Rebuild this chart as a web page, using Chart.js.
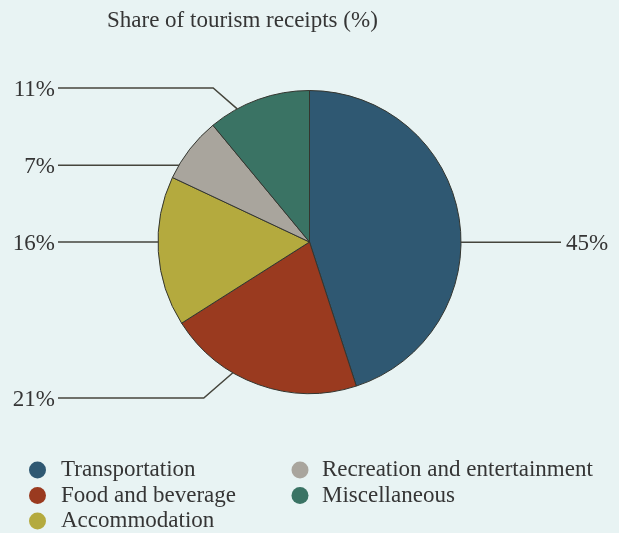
<!DOCTYPE html>
<html>
<head>
<meta charset="utf-8">
<script src="https://cdn.jsdelivr.net/npm/chart.js@4.4.1/dist/chart.umd.min.js"></script>
<style>
    html, body { margin: 0; padding: 0; background: #e8f3f3; }
    #wrap { width: 619px; height: 533px; position: relative; }
</style>
</head>
<body>
<div id="wrap"><canvas id="receipts_chart"></canvas></div>
<script>
// receipts by spending category, clockwise from 12 o'clock
var categories = ['Transportation', 'Food and beverage', 'Accommodation', 'Recreation and entertainment', 'Miscellaneous'];
var shares = [45, 21, 16, 7, 11];
var chartTitle = 'Share of tourism receipts (%)';

var sliceColors = ['#2f5872', '#9a3a1f', '#b4aa3e', '#a9a59d', '#3a7364'];

// where each leader line touches its slice (fraction along the arc) and the row its label sits on
// y: null -> straight line at the height of the touch point
var leaders = [
    {frac: 0.556, y: null},
    {frac: 0.64,  y: 398},
    {frac: 0.5625, y: null},
    {frac: 0.21,  y: null},
    {frac: 0.28,  y: 88}
];

var serif = "'Liberation Serif', 'Times New Roman', serif";
var textColor = '#353535';
var lineColor = '#45453c';

var extrasPlugin = {
    id: 'receiptsExtras',
    afterDraw: function (chart) {
        var ctx = chart.ctx;
        var arcs = chart.getDatasetMeta(0).data;
        ctx.save();
        ctx.font = '23px ' + serif;
        ctx.fillStyle = textColor;

        // title
        ctx.textAlign = 'left';
        ctx.textBaseline = 'alphabetic';
        ctx.fillText(chartTitle, 107, 27);

        // leader lines + percentages
        ctx.strokeStyle = lineColor;
        ctx.lineWidth = 1.5;
        for (var i = 0; i < arcs.length; i++) {
            var a = arcs[i].getProps(['x', 'y', 'startAngle', 'endAngle', 'outerRadius'], true);
            var ang = a.startAngle + leaders[i].frac * (a.endAngle - a.startAngle);
            var px = a.x + a.outerRadius * Math.cos(ang);
            var py = a.y + a.outerRadius * Math.sin(ang);
            var rowY = leaders[i].y === null ? py : leaders[i].y;
            var left = px < a.x;
            var txt = shares[i] + '%';
            var endX = left ? 58 : 561;
            var elbowX = px;
            if (leaders[i].y !== null) {
                elbowX = left ? px - 1.15 * Math.abs(py - rowY) : px + 1.15 * Math.abs(py - rowY);
            }
            ctx.beginPath();
            ctx.moveTo(endX, rowY);
            ctx.lineTo(elbowX, rowY);
            ctx.lineTo(px, py);
            ctx.stroke();

            ctx.textAlign = left ? 'right' : 'left';
            ctx.fillText(txt, left ? 55 : 566, rowY + 8);
        }

        // legend, two columns filled top to bottom
        var cols = [{dot: 37.5, text: 61}, {dot: 300, text: 322}];
        var rowBase = 476, rowStep = 25.5;
        ctx.textAlign = 'left';
        for (var j = 0; j < categories.length; j++) {
            var col = cols[Math.floor(j / 3)];
            var base = rowBase + (j % 3) * rowStep;
            ctx.beginPath();
            ctx.arc(col.dot, base - 6, 8.5, 0, Math.PI * 2);
            ctx.fillStyle = sliceColors[j];
            ctx.fill();
            ctx.fillStyle = textColor;
            ctx.fillText(categories[j], col.text, base);
        }
        ctx.restore();
    }
};

var ctx = document.getElementById('receipts_chart').getContext('2d');
var receiptsChart = new Chart(ctx, {
    type: 'pie',
    data: {
        labels: categories,
        datasets: [{
            data: shares,
            backgroundColor: sliceColors,
            borderColor: '#33352f',
            borderWidth: 1,
            hoverOffset: 0,
            offset: 0
        }]
    },
    options: {
        responsive: true,
        maintainAspectRatio: false,
        animation: false,
        layout: {
            padding: {top: 90, bottom: 139, left: 0, right: 0}
        },
        plugins: {
            legend: {display: false},
            title: {display: false},
            tooltip: {enabled: false}
        }
    },
    plugins: [extrasPlugin]
});
</script>
</body>
</html>
